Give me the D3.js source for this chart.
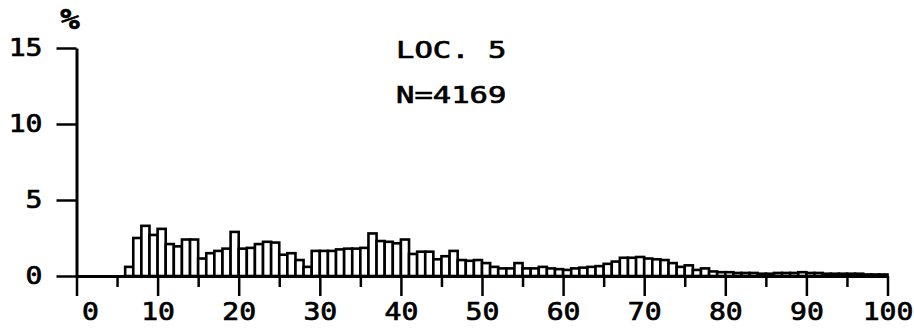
<!DOCTYPE html>
<html>
<head>
<meta charset="utf-8">
<script src="https://cdn.jsdelivr.net/npm/d3@7"></script>
<style>
  html, body { margin: 0; padding: 0; background: #fff; }
  text { font-family: "DejaVu Sans Mono", monospace; fill: #000; stroke: #000; stroke-width: 0.7px; }
</style>
</head>
<body>
<svg id="chart" width="914" height="329"></svg>
<script>
// ---- data ----
const binStarts = d3.range(0, 100);           // 1-unit wide classes 0..99
const percents = [
  0, 0, 0, 0, 0, 0, 0.6, 2.5, 3.3, 2.7,
  3.1, 2.1, 1.95, 2.4, 2.4, 1.15, 1.5, 1.65, 1.8, 2.9,
  1.8, 1.85, 2.1, 2.25, 2.2, 1.4, 1.5, 1.05, 0.6, 1.65,
  1.65, 1.65, 1.75, 1.8, 1.8, 1.85, 2.8, 2.3, 2.25, 2.15,
  2.4, 1.45, 1.6, 1.6, 1.1, 1.3, 1.65, 1.05, 1.0, 1.05,
  0.85, 0.6, 0.5, 0.5, 0.85, 0.5, 0.5, 0.6, 0.5, 0.45,
  0.4, 0.5, 0.55, 0.6, 0.65, 0.8, 0.95, 1.2, 1.2, 1.25,
  1.15, 1.1, 1.05, 0.85, 0.6, 0.7, 0.4, 0.5, 0.3, 0.25,
  0.25, 0.2, 0.2, 0.2, 0.15, 0.15, 0.2, 0.2, 0.2, 0.25,
  0.2, 0.2, 0.15, 0.15, 0.15, 0.15, 0.15, 0.1, 0.1, 0.1
];
const xMajorTicks = [0, 10, 20, 30, 40, 50, 60, 70, 80, 90, 100];
const xMinorTicks = [5, 15, 25, 35, 45, 55, 65, 75, 85, 95];
const yTicks = [0, 5, 10, 15];
const yUnit = "%";
const titleLines = ["LOC. 5", "N=4169"];

// ---- chart ----
const svg = d3.select("#chart");
svg.append("rect").attr("width", 914).attr("height", 329).attr("fill", "#fff").attr("stroke", "none");

const x = d3.scaleLinear().domain([0, 100]).range([76.5, 887.5]);
const y = d3.scaleLinear().domain([0, 15]).range([276, 48]);

const bins = binStarts.map((s, i) => ({ s, v: percents[i] })).filter(d => d.v > 0);

svg.append("g").selectAll("rect").data(bins).join("rect")
  .attr("x", d => x(d.s))
  .attr("width", d => x(d.s + 1) - x(d.s))
  .attr("y", d => y(d.v))
  .attr("height", d => y(0) - y(d.v))
  .attr("fill", "#fff")
  .attr("stroke", "#000")
  .attr("stroke-width", 2.6);

const AX_SX = 1.17;   // horizontal stretch of axis label glyphs
const TI_SX = 1.3;    // horizontal stretch of annotation glyphs

// minor x ticks
const xMinor = svg.append("g").attr("transform", `translate(0,${y(0)})`)
  .call(d3.axisBottom(x).tickValues(xMinorTicks).tickSize(11).tickFormat(""));
xMinor.select(".domain").remove();
xMinor.selectAll("line").attr("stroke", "#000").attr("stroke-width", 2.5);

// major x axis
const xAxis = svg.append("g").attr("transform", `translate(0,${y(0)})`)
  .call(d3.axisBottom(x).tickValues(xMajorTicks).tickSize(20).tickSizeOuter(0).tickPadding(7));
xAxis.select(".domain").attr("stroke", "#000").attr("stroke-width", 3);
xAxis.selectAll("line").attr("stroke", "#000").attr("stroke-width", 2.5);
xAxis.selectAll("text")
  .attr("font-size", 24)
  .attr("dy", "0.72em")
  .attr("transform", `scale(${AX_SX},1)`)
  .attr("x", d => (d === 0 ? 13.5 : 0) / AX_SX)
  .style("font-family", "DejaVu Sans Mono").attr("fill", "#000");

// y axis
const yAxis = svg.append("g").attr("transform", `translate(${x(0)},0)`)
  .call(d3.axisLeft(y).tickValues(yTicks).tickSize(20).tickSizeOuter(0).tickPadding(13));
yAxis.select(".domain").attr("stroke", "#000").attr("stroke-width", 3);
yAxis.selectAll("line").attr("stroke", "#000").attr("stroke-width", 2.5);
yAxis.selectAll("text")
  .attr("font-size", 24)
  .attr("transform", `scale(${AX_SX},1)`)
  .attr("x", -34 / AX_SX)
  .style("font-family", "DejaVu Sans Mono").attr("fill", "#000");

// unit label
svg.append("text")
  .attr("transform", "translate(70,29) scale(1.15,1)")
  .attr("text-anchor", "middle")
  .attr("font-size", 28).attr("font-weight", "bold").text(yUnit);

// annotation
svg.append("g").selectAll("text").data(titleLines).join("text")
  .attr("transform", (d, i) => `translate(396,${58 + i * 45}) scale(${TI_SX},1)`)
  .attr("font-size", 23.5)
  .text(d => d);
</script>
</body>
</html>
